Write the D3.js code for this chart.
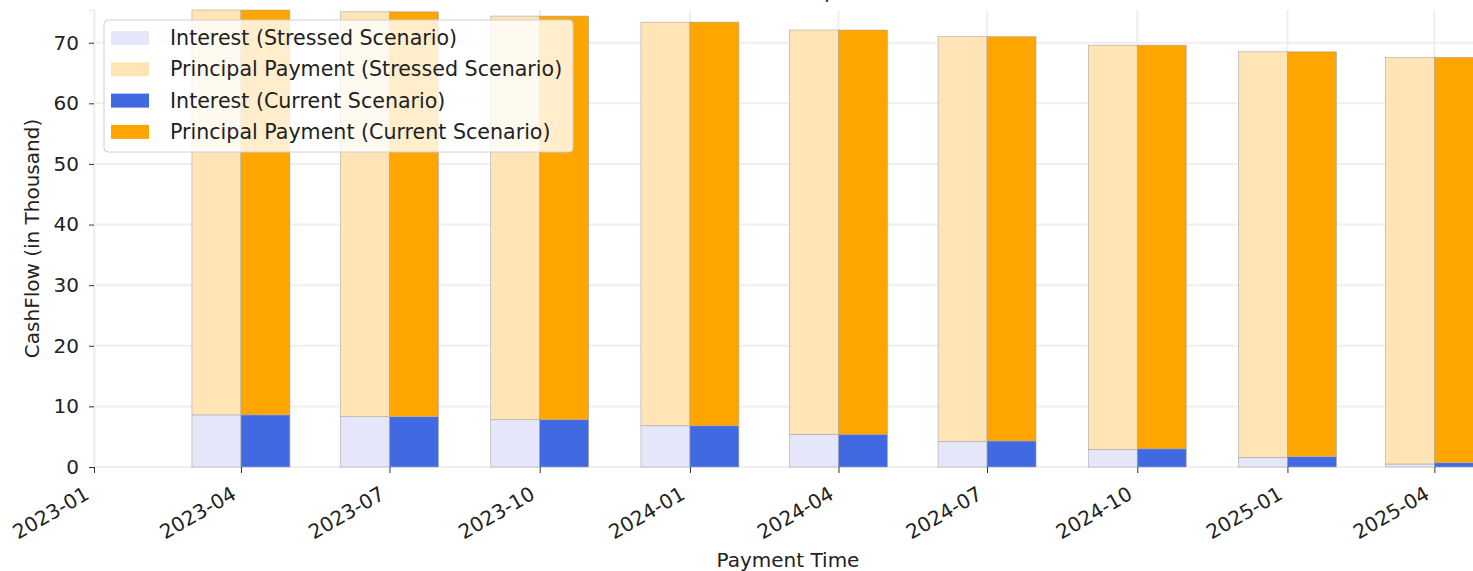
<!DOCTYPE html>
<html>
<head>
<meta charset="utf-8">
<script src="https://cdn.jsdelivr.net/npm/d3@7"></script>
<style>
  body { margin: 0; background: #fff; }
  svg { font-family: "DejaVu Sans", sans-serif; }
</style>
</head>
<body>
<svg id="chart"></svg>
<script>
var width = 1473;
var height = 571;

// payment dates (quarterly)
var dates = ["2023-04-01", "2023-07-01", "2023-10-01", "2024-01-01", "2024-04-01",
             "2024-07-01", "2024-10-01", "2025-01-01", "2025-04-01"];

// cash flows, in thousand
var interestCurrent   = [8.6, 8.3, 7.8, 6.8, 5.4, 4.3, 3.0, 1.7, 0.7];
var principalCurrent  = [66.8, 66.8, 66.6, 66.6, 66.7, 66.7, 66.6, 66.8, 66.9];
var interestStressed  = [8.6, 8.3, 7.8, 6.8, 5.4, 4.2, 2.9, 1.6, 0.5];
var principalStressed = [66.8, 66.8, 66.6, 66.6, 66.7, 66.8, 66.7, 66.9, 67.1];

var yTicks = [0, 10, 20, 30, 40, 50, 60, 70];
var xTickDates = ["2023-01-01", "2023-04-01", "2023-07-01", "2023-10-01", "2024-01-01",
                  "2024-04-01", "2024-07-01", "2024-10-01", "2025-01-01", "2025-04-01"];

var legendItems = [
  {label: "Interest (Stressed Scenario)", color: "#e6e6fa"},
  {label: "Principal Payment (Stressed Scenario)", color: "#ffe4b5"},
  {label: "Interest (Current Scenario)", color: "#4169e1"},
  {label: "Principal Payment (Current Scenario)", color: "#ffa500"}
];

var parse = d3.utcParse("%Y-%m-%d");
var fmt = d3.utcFormat("%Y-%m");

var plotLeft = 94, plotRight = 1485, plotTop = 10, plotBottom = 467;
var fontSize = 20;

var svg = d3.select("#chart").attr("width", width).attr("height", height);

var x = d3.scaleUtc()
    .domain([parse("2023-01-01"), parse("2025-05-02")])
    .range([plotLeft, plotRight]);

var y = d3.scaleLinear()
    .domain([0, 75.4])
    .range([plotBottom, plotTop]);

// grid
var grid = svg.append("g");
grid.selectAll("line.h").data(yTicks).enter().append("line")
    .attr("x1", plotLeft).attr("x2", plotRight)
    .attr("y1", function(d) { return y(d); })
    .attr("y2", function(d) { return y(d); })
    .attr("stroke", "#efefef").attr("stroke-width", 2);
grid.selectAll("line.v").data(xTickDates).enter().append("line")
    .attr("x1", function(d) { return x(parse(d)); })
    .attr("x2", function(d) { return x(parse(d)); })
    .attr("y1", plotTop).attr("y2", plotBottom)
    .attr("stroke", "#efefef").attr("stroke-width", 2);

// bars
var day = 24 * 3600 * 1000;
var rows = dates.map(function(d, i) {
  return {
    date: parse(d),
    iS: interestStressed[i], pS: principalStressed[i],
    iC: interestCurrent[i], pC: principalCurrent[i]
  };
});

function drawStack(offsetStart, offsetEnd, iKey, pKey, iColor, pColor) {
  var g = svg.append("g");
  var x0 = function(d) { return x(new Date(+d.date + offsetStart * day)); };
  var w = function(d) { return x(new Date(+d.date + offsetEnd * day)) - x0(d); };
  var bars = g.selectAll("g").data(rows).enter().append("g");
  bars.append("rect")
      .attr("x", x0).attr("width", w)
      .attr("y", function(d) { return y(d[iKey]); })
      .attr("height", function(d) { return y(0) - y(d[iKey]); })
      .attr("fill", iColor).attr("stroke", "#a8a8a8").attr("stroke-width", 0.6);
  bars.append("rect")
      .attr("x", x0).attr("width", w)
      .attr("y", function(d) { return y(d[iKey] + d[pKey]); })
      .attr("height", function(d) { return y(d[iKey]) - y(d[iKey] + d[pKey]); })
      .attr("fill", pColor).attr("stroke", "#a8a8a8").attr("stroke-width", 0.6);
}
drawStack(-30, 0, "iS", "pS", "#e6e6fa", "#ffe4b5");
drawStack(0, 30, "iC", "pC", "#4169e1", "#ffa500");

// axes
var yAxis = svg.append("g")
    .attr("transform", "translate(" + plotLeft + ",0)")
    .call(d3.axisLeft(y).tickValues(yTicks).tickSize(5).tickPadding(10));
yAxis.select(".domain").attr("stroke", "#efefef").attr("stroke-width", 2);
yAxis.selectAll(".tick line").attr("stroke", "#333");
yAxis.selectAll("text").attr("font-size", fontSize).attr("fill", "#222")
    .attr("font-family", "DejaVu Sans");

var xAxis = svg.append("g")
    .attr("transform", "translate(0," + plotBottom + ")")
    .call(d3.axisBottom(x).tickValues(xTickDates.map(parse)).tickFormat(fmt).tickSize(6));
xAxis.select(".domain").remove();
xAxis.selectAll(".tick line").attr("stroke", "#333");
xAxis.selectAll("text")
    .attr("font-size", fontSize).attr("fill", "#222").attr("font-family", "DejaVu Sans")
    .attr("text-anchor", "end")
    .attr("dy", null)
    .attr("y", 0)
    .attr("transform", "translate(-4,31) rotate(-30)");

// labels
svg.append("text")
    .attr("transform", "translate(39," + ((plotTop + plotBottom) / 2) + ") rotate(-90)")
    .attr("text-anchor", "middle")
    .attr("font-size", fontSize).attr("fill", "#222")
    .text("CashFlow (in Thousand)");

svg.append("text")
    .attr("x", 788).attr("y", 567)
    .attr("text-anchor", "middle")
    .attr("font-size", fontSize).attr("fill", "#222")
    .text("Payment Time");

svg.append("text")
    .attr("x", 790).attr("y", -2)
    .attr("text-anchor", "middle")
    .attr("font-size", fontSize).attr("fill", "#222")
    .text("Cashflow Comparison");

// legend
var lg = svg.append("g").attr("transform", "translate(104,20)");
lg.append("rect")
    .attr("width", 469).attr("height", 132).attr("rx", 4)
    .attr("fill", "#fff").attr("fill-opacity", 0.8)
    .attr("stroke", "#d0d0d0");
var item = lg.selectAll("g.item").data(legendItems).enter().append("g")
    .attr("transform", function(d, i) { return "translate(0," + (18 + i * 31.3) + ")"; });
item.append("rect")
    .attr("x", 7).attr("y", -7).attr("width", 38).attr("height", 14)
    .attr("fill", function(d) { return d.color; });
item.append("text")
    .attr("x", 66).attr("y", 7)
    .attr("font-size", 20.6).attr("fill", "#222")
    .text(function(d) { return d.label; });
</script>
</body>
</html>
